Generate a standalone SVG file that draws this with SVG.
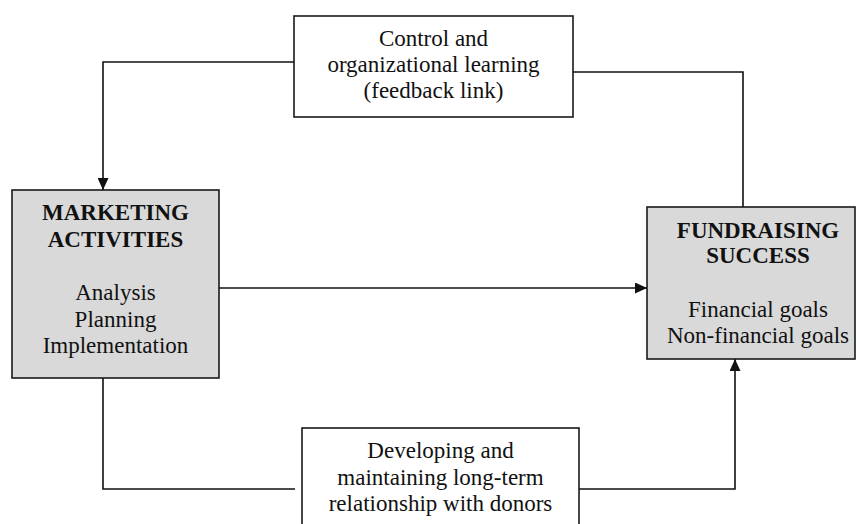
<svg xmlns="http://www.w3.org/2000/svg" width="858" height="524" viewBox="0 0 858 524">
<defs>
<style>
.box{stroke:#1a1a1a;stroke-width:1.6}
.grey{fill:#d9d9d9}
.white{fill:#ffffff}
.t{font-family:"Liberation Serif","Times New Roman",serif;font-size:23px;fill:#111;text-anchor:middle}
.b{font-weight:bold}
.c{fill:none;stroke:#111;stroke-width:1.6}
</style>
<marker id="ah" viewBox="0 0 12 11" refX="12" refY="5.5" markerWidth="12" markerHeight="11" markerUnits="userSpaceOnUse" orient="auto">
<path d="M0,0 L12,5.5 L0,11 Z" fill="#111"/>
</marker>
</defs>
<rect width="858" height="524" fill="#ffffff"/>
<g id="connectors">
<polyline class="c" points="294,62 103,62 103,190" marker-end="url(#ah)"/>
<polyline class="c" points="573,72 743,72 743,207"/>
<line class="c" x1="219" y1="288" x2="647" y2="288" marker-end="url(#ah)"/>
<polyline class="c" points="103,378 103,489 295,489"/>
<polyline class="c" points="572,489 735,489 735,359" marker-end="url(#ah)"/>
</g>
<g id="feedback">
<rect class="box white" x="294" y="16" width="279" height="101"/>
<text class="t" x="433.5" y="46">Control and</text>
<text class="t" x="433.5" y="72">organizational learning</text>
<text class="t" x="433.5" y="98">(feedback link)</text>
</g>
<g id="marketing">
<rect class="box grey" x="12" y="190" width="207" height="188"/>
<text class="t b" x="115.5" y="220">MARKETING</text>
<text class="t b" x="115.5" y="247">ACTIVITIES</text>
<text class="t" x="115.5" y="300">Analysis</text>
<text class="t" x="115.5" y="327">Planning</text>
<text class="t" x="115.5" y="353">Implementation</text>
</g>
<g id="fundraising">
<rect class="box grey" x="647" y="207" width="208" height="152"/>
<text class="t b" x="758" y="238">FUNDRAISING</text>
<text class="t b" x="758" y="263">SUCCESS</text>
<text class="t" x="758" y="317">Financial goals</text>
<text class="t" x="758" y="343">Non-financial goals</text>
</g>
<g id="relationship">
<rect class="box white" x="302" y="428" width="277" height="110"/>
<text class="t" x="440.5" y="458">Developing and</text>
<text class="t" x="440.5" y="485">maintaining long-term</text>
<text class="t" x="440.5" y="511">relationship with donors</text>
</g>
</svg>
